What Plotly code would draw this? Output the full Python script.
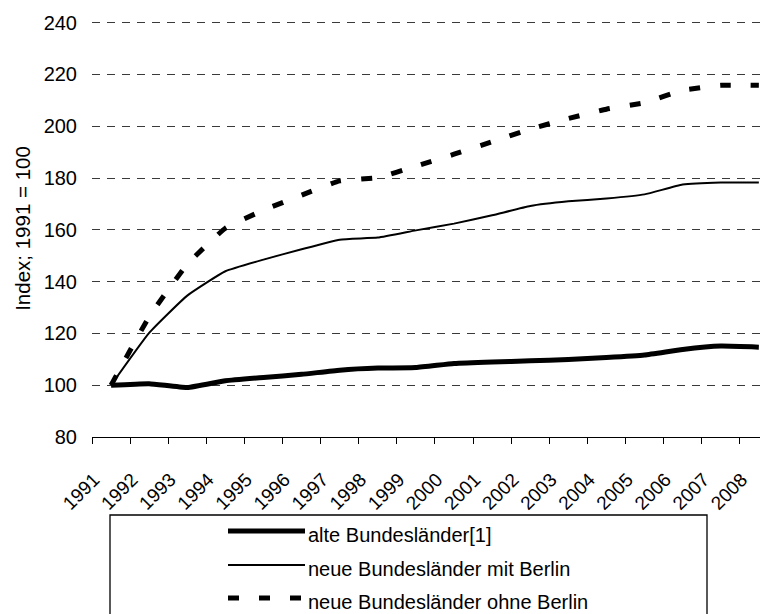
import plotly.graph_objects as go

years = [str(y) for y in range(1991, 2009)]
series_names = ["alte Bundesländer[1]", "neue Bundesländer mit Berlin", "neue Bundesländer ohne Berlin"]
alte = [100.0, 100.6, 99.1, 101.7, 103.0, 104.2, 105.8, 106.6, 106.8, 108.4, 109.0, 109.4, 109.9, 110.7, 111.7, 113.8, 115.1, 114.7]
neue_mit = [100.0, 120.2, 134.6, 144.0, 148.5, 152.5, 156.2, 157.0, 159.8, 162.4, 165.6, 169.2, 171.0, 172.1, 173.7, 177.5, 178.3, 178.3]
neue_ohne = [100.0, 126.4, 146.7, 160.6, 167.6, 173.4, 178.9, 180.2, 184.6, 189.2, 194.0, 198.9, 203.0, 206.6, 209.1, 213.9, 215.8, 215.8]
y_ticks = [80, 100, 120, 140, 160, 180, 200, 220, 240]

FONT = "Liberation Sans, Arial, sans-serif"
styles = [
    dict(color="black", width=5),
    dict(color="black", width=2),
    dict(color="black", width=5, dash="11px,20px"),
]
values = [alte, neue_mit, neue_ohne]

fig = go.Figure()
for name, vals, st in zip(series_names, values, styles):
    fig.add_trace(go.Scatter(x=years, y=vals, mode="lines", name=name,
                             line=dict(shape="spline", smoothing=0.4, **st),
                             showlegend=False))

# the page body has an 8px margin, so the figure is laid out 8px smaller
OFF = 8
W, H = 768 - OFF, 614 - OFF
L, R, T, B = 92 - OFF, 0, 20 - OFF, 614 - 437
pw, ph = W - L - R, H - T - B

def px_x(p):
    return (p - OFF - L) / pw

def px_y(p):
    return (H - B - (p - OFF)) / ph

shapes = [dict(type="rect", xref="paper", yref="paper",
               x0=px_x(110), x1=px_x(707), y0=px_y(515), y1=px_y(640),
               line=dict(color="black", width=1.3), fillcolor="rgba(0,0,0,0)")]
annotations = []
rows = [531, 565, 598]
for name, st, ry in zip(series_names, styles, rows):
    shapes.append(dict(type="line", xref="paper", yref="paper",
                       x0=px_x(228), x1=px_x(305), y0=px_y(ry), y1=px_y(ry),
                       line=st))
    annotations.append(dict(xref="paper", yref="paper", x=px_x(306), y=px_y(ry + 4),
                            text=name, showarrow=False, xanchor="left", yanchor="middle",
                            font=dict(family=FONT, size=20, color="black")))

fig.update_layout(
    width=W, height=H,
    margin=dict(l=L, r=R, t=T, b=B, autoexpand=False),
    paper_bgcolor="white", plot_bgcolor="white",
    shapes=shapes, annotations=annotations,
    showlegend=False,
    font=dict(family=FONT, color="black"),
)
fig.update_xaxes(
    type="category", range=[-0.5, 17.24], tickson="boundaries",
    ticks="outside", ticklen=6, tickcolor="black", tickwidth=1,
    showline=True, linecolor="black", linewidth=1,
    showgrid=False, zeroline=False, automargin=False,
    tickangle=-45, tickfont=dict(family=FONT, size=19, color="black"),
    ticklabelstandoff=23, ticklabelshift=-17,
)
fig.update_yaxes(
    range=[80, 241.04], tickvals=y_ticks,
    showgrid=True, gridcolor="#3a3a3a", gridwidth=1, griddash="8px,7px",
    zeroline=False, showline=False, ticks="", automargin=False,
    tickfont=dict(family=FONT, size=20, color="black"),
    ticklabelstandoff=14,
    title=dict(text="Index; 1991 = 100", font=dict(family=FONT, size=20.5, color="black"), standoff=7),
)
fig.write_html("out.html")
